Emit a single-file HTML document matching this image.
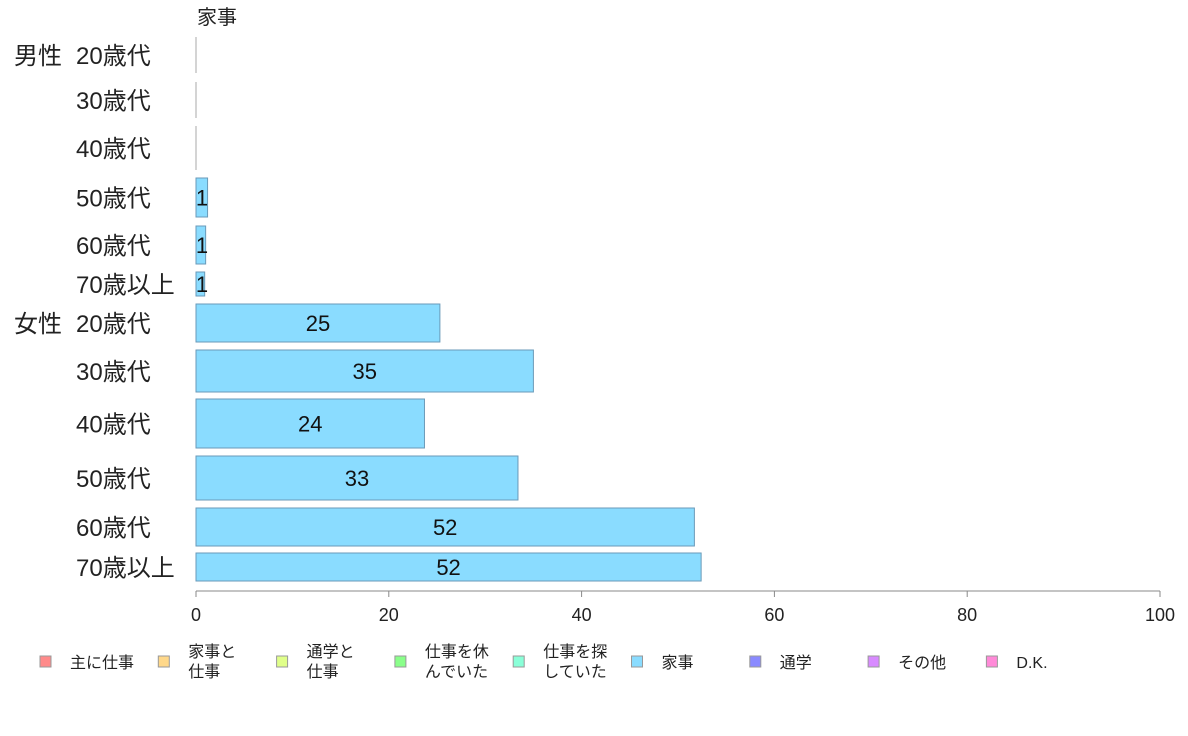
<!DOCTYPE html>
<html><head><meta charset="utf-8">
<style>
body{margin:0;background:#fff;}
svg{display:block;font-family:"Liberation Sans","Noto Sans CJK JP",sans-serif;}
</style></head>
<body>
<svg id="chart" width="1188" height="736" viewBox="0 0 1188 736">
<text x="197" y="24" font-size="20" fill="#222">家事</text>
<g id="axis"></g>
<g id="bars"></g>
<g id="ylabels"></g>
<g id="legend"></g>
</svg>
<script>
const categories = ["20歳代","30歳代","40歳代","50歳代","60歳代","70歳以上","20歳代","30歳代","40歳代","50歳代","60歳代","70歳以上"];
const groups = ["男性","","","","","","女性","","","","",""];
const values = [0,0,0,1.2,1.0,0.9,25.3,35,23.7,33.4,51.7,52.4];
const valueLabels = ["","","","1","1","1","25","35","24","33","52","52"];
const xTicks = [0,20,40,60,80,100];
const legendLabels = [["主に仕事"],["家事と","仕事"],["通学と","仕事"],["仕事を休","んでいた"],["仕事を探","していた"],["家事"],["通学"],["その他"],["D.K."]];
const legendColors = ["#ff8a8a","#ffd88a","#e0ff8a","#8aff8a","#8affd8","#8adcff","#8a8aff","#d88aff","#ff8ad8"];

const rowTop = [37,82,126,178,226,272,304,350,399,456,508,553];
const rowBot = [73,118,170,217,264,296,342,392,448,500,546,581];
const ns="http://www.w3.org/2000/svg";
const X0=196, X1=1160;
function x(v){return X0+(X1-X0)*v/100;}
function mk(tag,attrs,parent){const e=document.createElementNS(ns,tag);for(const k in attrs)e.setAttribute(k,attrs[k]);parent.appendChild(e);return e;}
const axis=document.getElementById('axis'),bars=document.getElementById('bars'),yl=document.getElementById('ylabels'),lg=document.getElementById('legend');
let l=mk('line',{x1:X0,x2:X1,y1:591,y2:591,stroke:'#888'},axis);
xTicks.forEach(t=>{
  let tk=mk('line',{x1:x(t),x2:x(t),y1:591,y2:597,stroke:'#888'},axis);
  
  
  let tx=mk('text',{x:x(t),y:621,'font-size':18,'text-anchor':'middle',fill:'#222'},axis);
  
  
  tx.textContent=t;
});
values.forEach((v,i)=>{
  const y0=rowTop[i],h=rowBot[i]-rowTop[i],cy=(y0+rowBot[i])/2;
  let r;
  if(v<=0){r=mk('line',{x1:X0,x2:X0,y1:y0,y2:rowBot[i],stroke:'#aaa'},bars);}
  else r=mk('rect',{x:X0,y:y0,width:x(v)-X0,height:h,fill:'#8adcff',stroke:'#6a9ab8','stroke-width':1},bars);
  
  
  if(valueLabels[i]){
    let t=mk('text',{x:v<3?X0+6:(X0+x(v))/2,y:cy+8,'font-size':22,'text-anchor':'middle',fill:'#111'},bars);
    
    
    t.textContent=valueLabels[i];
  }
  let c=mk('text',{x:76,y:cy+9,'font-size':24,fill:'#222'},yl);
  
  
  c.textContent=categories[i];
  if(groups[i]){
    let g=mk('text',{x:14,y:cy+9,'font-size':24,fill:'#222'},yl);
    
    
    g.textContent=groups[i];
  }
});
legendLabels.forEach((lab,i)=>{
  const lx=40+i*118.3;
  let s=mk('rect',{x:lx,y:656,width:11,height:11,fill:legendColors[i],stroke:'#999'},lg);
  
  
  lab.forEach((ln,j)=>{
    let t=mk('text',{x:lx+(lab.length>1?148-118:30),y:(lab.length>1?657:668)+j*20,'font-size':16,fill:'#222'},lg);
    
    
    t.textContent=ln;
  });
});
</script>
</body></html>
